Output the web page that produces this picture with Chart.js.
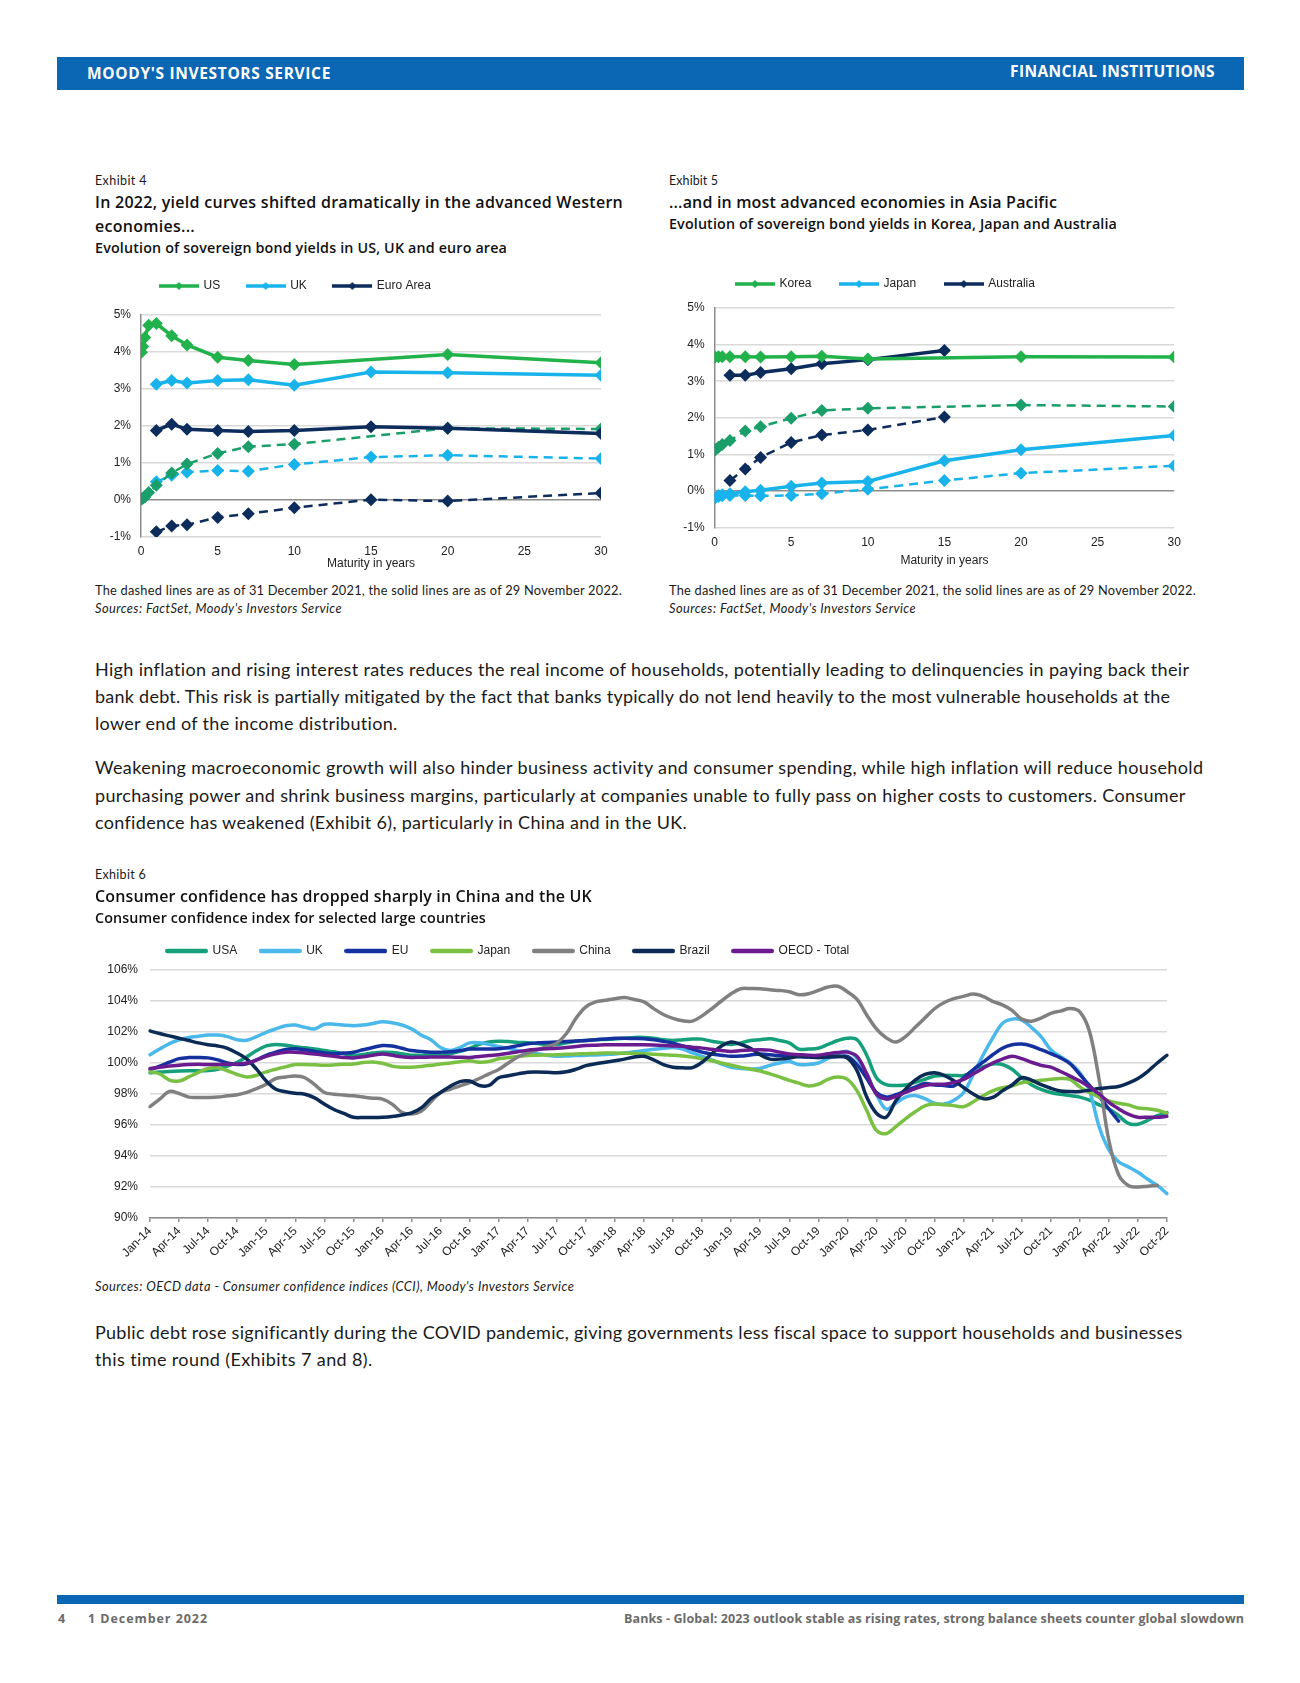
<!DOCTYPE html>
<html><head><meta charset="utf-8">
<script src="https://cdn.jsdelivr.net/npm/chart.js@4.4.1/dist/chart.umd.min.js"></script>
<style>
html,body{margin:0;padding:0;background:#fff;}
#page{position:relative;width:1300px;height:1683px;overflow:hidden;background:#fff;font-family:Lato,"Open Sans",sans-serif;color:#1a1a1a;}
.t{position:absolute;white-space:nowrap;line-height:1;}
.bar{position:absolute;background:#0b66b4;}
canvas{position:absolute;}
</style></head>
<body><div id="page">
<div class="bar" style="left:57px;top:57px;width:1187px;height:33px"></div>
<div class="bar" style="left:57px;top:1595px;width:1187px;height:9px"></div>
<canvas id="c1" width="530" height="320" style="left:95px;top:260px"></canvas>
<canvas id="c2" width="530" height="320" style="left:670px;top:252px"></canvas>
<canvas id="c3" width="1110" height="364" style="left:80px;top:914px"></canvas>
</div>
<script>
// ---------- Exhibit 4 data ----------
const maturities4 = [0.03, 0.12, 0.25, 0.5, 1, 2, 3, 5, 7, 10, 15, 20, 30];
const us2022   = [3.99, 4.15, 4.39, 4.72, 4.77, 4.44, 4.19, 3.86, 3.77, 3.66, null, 3.93, 3.71];
const uk2022   = [null, null, null, null, 3.13, 3.23, 3.16, 3.23, 3.25, 3.10, 3.46, 3.44, 3.37];
const euro2022 = [null, null, null, null, 1.88, 2.05, 1.91, 1.88, 1.85, 1.88, 1.98, 1.94, 1.80];
const us2021   = [0.03, 0.05, 0.08, 0.20, 0.40, 0.73, 0.97, 1.26, 1.44, 1.51, null, 1.94, 1.92];
const uk2021   = [null, null, null, null, 0.49, 0.67, 0.75, 0.80, 0.78, 0.96, 1.16, 1.21, 1.12];
const euro2021 = [null, null, null, null, -0.86, -0.70, -0.67, -0.47, -0.37, -0.21, 0.01, -0.03, 0.19];

// ---------- Exhibit 5 data ----------
const maturities5 = [0.03, 0.25, 0.5, 1, 2, 3, 5, 7, 10, 15, 20, 30];
const korea2022 = [3.66, 3.67, 3.67, 3.67, 3.67, 3.66, 3.67, 3.68, 3.61, null, 3.67, 3.66];
const japan2022 = [null, -0.12, -0.10, -0.07, -0.02, 0.02, 0.13, 0.22, 0.26, 0.83, 1.13, 1.52];
const aus2022   = [null, null, null, 3.16, 3.16, 3.24, 3.34, 3.48, 3.59, 3.84, null, null];
const korea2021 = [1.12, 1.20, 1.27, 1.38, 1.64, 1.76, 1.99, 2.20, 2.26, null, 2.35, 2.31];
const japan2021 = [-0.19, -0.15, -0.13, -0.12, -0.12, -0.13, -0.12, -0.07, 0.05, 0.29, 0.49, 0.69];
const aus2021   = [null, null, null, 0.29, 0.60, 0.92, 1.33, 1.53, 1.67, 2.02, null, null];

// ---------- Exhibit 6 data (monthly, Jan-14 .. Oct-22) ----------
const monthNames = ['Jan','Feb','Mar','Apr','May','Jun','Jul','Aug','Sep','Oct','Nov','Dec'];
const years = ['14','15','16','17','18','19','20','21','22'];
const lastMonthIndex = 9; // Oct-22
const months = [];
years.forEach((y, yi) => monthNames.forEach((m, mi) => { if (yi < years.length - 1 || mi <= lastMonthIndex) months.push(m + '-' + y); }));

const usaCCI = [
99.37,99.42,99.45,99.48,99.5,99.5,99.52,99.6,99.8,100.05,100.4,100.8,
101.1,101.2,101.15,101.05,100.98,100.9,100.8,100.72,100.6,100.5,100.55,100.65,
100.7,100.68,100.6,100.5,100.5,100.52,100.5,100.6,100.75,100.95,101.2,101.35,
101.4,101.38,101.33,101.3,101.25,101.2,101.2,101.3,101.4,101.45,101.5,101.52,
101.55,101.6,101.65,101.65,101.6,101.5,101.45,101.5,101.55,101.54,101.4,101.3,
101.2,101.3,101.45,101.5,101.56,101.45,101.3,100.9,100.9,100.95,101.2,101.45,
101.6,101.5,100.5,99.05,98.6,98.55,98.58,98.75,98.95,99.16,99.2,99.2,
99.2,99.45,99.75,99.94,99.9,99.6,99.05,98.6,98.3,98.1,97.98,97.9,
97.8,97.6,97.3,97.03,96.6,96.1,96.05,96.3,96.6,96.8];
const ukCCI = [
100.53,100.9,101.25,101.5,101.65,101.72,101.8,101.8,101.7,101.5,101.47,101.7,
101.98,102.2,102.4,102.45,102.3,102.2,102.5,102.5,102.45,102.4,102.45,102.55,
102.66,102.6,102.45,102.2,101.8,101.5,101.0,100.8,101.0,101.3,101.3,101.2,
101.05,100.95,100.8,100.7,100.6,100.5,100.44,100.45,100.48,100.5,100.52,100.55,
100.58,100.65,100.72,100.8,100.88,100.95,101.0,100.9,100.65,100.43,100.2,99.95,
99.72,99.65,99.62,99.65,99.85,100.0,100.1,99.9,99.9,100.0,100.3,100.6,
100.75,100.3,99.3,97.98,97.03,97.4,97.8,97.9,97.7,97.4,97.35,97.6,
98.1,99.26,100.5,101.6,102.55,102.83,102.77,102.3,101.7,100.86,100.4,100.0,
99.37,98.2,95.87,94.4,93.63,93.3,92.95,92.5,92.1,91.57];
const euCCI = [
99.58,99.8,100.05,100.28,100.35,100.36,100.33,100.2,100.0,99.9,99.95,100.2,
100.5,100.7,100.88,100.92,100.85,100.75,100.64,100.6,100.64,100.7,100.85,101.0,
101.13,101.1,100.95,100.8,100.75,100.7,100.7,100.72,100.8,100.9,100.9,100.9,
100.92,101.0,101.12,101.24,101.3,101.33,101.35,101.38,101.42,101.45,101.5,101.55,
101.6,101.6,101.58,101.56,101.5,101.4,101.28,101.1,100.9,100.7,100.58,100.5,
100.43,100.45,100.52,100.58,100.53,100.48,100.43,100.4,100.38,100.36,100.38,100.4,
100.43,99.9,99.0,98.1,97.8,97.95,98.2,98.45,98.67,98.58,98.55,98.52,
99.05,99.58,100.05,100.53,100.95,101.18,101.22,101.1,100.86,100.6,100.33,99.95,
99.26,98.55,97.85,97.03,96.25];
const japanCCI = [
99.43,99.3,98.9,98.84,99.1,99.4,99.65,99.69,99.5,99.26,99.1,99.2,
99.43,99.6,99.75,99.9,99.9,99.88,99.86,99.88,99.92,99.94,100.03,100.07,
99.98,99.8,99.73,99.73,99.78,99.85,99.94,100.0,100.08,100.15,100.05,100.1,
100.28,100.35,100.42,100.48,100.5,100.52,100.53,100.56,100.58,100.6,100.62,100.64,
100.64,100.63,100.62,100.6,100.57,100.53,100.5,100.45,100.38,100.28,100.15,100.0,
99.86,99.72,99.6,99.48,99.3,99.1,98.88,98.7,98.52,98.63,98.95,99.09,
98.94,98.2,96.93,95.65,95.44,95.9,96.4,96.85,97.24,97.35,97.3,97.25,
97.18,97.5,97.88,98.2,98.4,98.52,98.73,98.8,98.88,98.95,99.0,98.94,
98.46,98.1,97.8,97.56,97.4,97.3,97.1,97.05,96.95,96.76];
const chinaCCI = [
97.18,97.67,98.16,98.03,97.8,97.78,97.78,97.8,97.88,97.95,98.1,98.35,
98.63,99.0,99.1,99.16,99.05,98.6,98.1,97.99,97.93,97.88,97.8,97.73,
97.67,97.35,96.82,96.71,96.88,97.5,98.1,98.3,98.52,98.73,99.0,99.3,
99.58,100.0,100.4,100.64,100.85,101.05,101.28,101.9,102.9,103.62,103.94,104.05,
104.15,104.22,104.1,103.94,103.51,103.13,102.88,102.72,102.7,103.04,103.5,104.0,
104.47,104.79,104.8,104.79,104.72,104.68,104.6,104.4,104.47,104.68,104.9,104.95,
104.6,104.1,103.1,102.2,101.63,101.35,101.7,102.3,102.9,103.5,103.9,104.15,
104.3,104.45,104.3,103.98,103.75,103.4,102.83,102.7,102.9,103.2,103.35,103.51,
103.3,102.03,98.9,95.0,92.8,92.1,92.0,92.05,92.1];
const brazilCCI = [
102.07,101.9,101.75,101.6,101.45,101.3,101.18,101.1,100.95,100.64,100.25,99.6,
98.84,98.31,98.15,98.05,97.98,97.75,97.35,97.0,96.75,96.5,96.48,96.48,
96.5,96.55,96.65,96.78,97.1,97.7,98.1,98.5,98.8,98.84,98.55,98.55,
99.05,99.18,99.3,99.41,99.42,99.4,99.37,99.43,99.6,99.83,99.95,100.05,
100.15,100.25,100.39,100.43,100.2,99.9,99.73,99.69,99.7,100.05,100.6,101.1,
101.35,101.2,100.95,100.53,100.25,100.25,100.32,100.43,100.4,100.36,100.4,100.43,
100.32,99.5,97.8,96.76,96.5,97.56,98.31,98.9,99.26,99.37,99.2,98.85,
98.42,98.0,97.7,97.78,98.2,98.58,99.05,98.9,98.6,98.37,98.2,98.16,
98.16,98.25,98.35,98.42,98.48,98.7,99.0,99.45,100.0,100.5];
const oecdCCI = [
99.65,99.72,99.8,99.86,99.9,99.92,99.9,99.9,99.92,99.94,100.0,100.2,
100.43,100.6,100.7,100.7,100.65,100.58,100.5,100.43,100.36,100.33,100.4,100.5,
100.58,100.5,100.4,100.36,100.37,100.38,100.39,100.38,100.37,100.36,100.42,100.48,
100.53,100.63,100.73,100.83,100.88,100.92,100.95,101.0,101.07,101.13,101.15,101.17,
101.18,101.18,101.18,101.18,101.16,101.13,101.1,101.08,101.02,100.96,100.88,100.8,
100.75,100.8,100.84,100.86,100.83,100.7,100.58,100.54,100.5,100.5,100.6,100.68,
100.7,100.43,99.3,97.98,97.67,97.85,98.1,98.35,98.55,98.63,98.63,98.75,
98.94,99.3,99.65,100.0,100.25,100.43,100.28,100.05,99.85,99.73,99.45,99.15,
98.84,98.45,98.0,97.46,97.05,96.7,96.5,96.5,96.5,96.56];

const yTicks4 = [-1, 0, 1, 2, 3, 4, 5];
const xTicks4 = [0, 5, 10, 15, 20, 25, 30];

// ---------- page text ----------
const page = document.getElementById('page');
const HEAD = '"Open Sans", Lato, sans-serif';
function T(txt, x, yc, w, size, weight, style, color, right, family) {
  const el = document.createElement('div');
  el.className = 't';
  el.textContent = txt;
  el.style.fontSize = size + 'px';
  el.style.fontWeight = weight || 400;
  el.style.fontStyle = style || 'normal';
  el.style.color = color || '#1a1a1a';
  if (family) el.style.fontFamily = family;
  el.style.top = (yc - size * 0.56) + 'px';
  el.style.left = x + 'px';
  el.dataset.w = w;
  if (right) el.dataset.r = right;
  page.appendChild(el);
}
T("MOODY'S INVESTORS SERVICE", 87, 75, 244, 15.5, 700, 'normal', '#fff', null, HEAD);
T("FINANCIAL INSTITUTIONS", 1010, 73, 205, 15.5, 700, 'normal', '#fff', 1215, HEAD);
T("Exhibit 4", 95, 182, 52, 12.5);
T("In 2022, yield curves shifted dramatically in the advanced Western", 95, 203, 528, 16, 600, 'normal', '#111', null, HEAD);
T("economies...", 95, 227, 100, 16, 600, 'normal', '#111', null, HEAD);
T("Evolution of sovereign bond yields in US, UK and euro area", 95, 249, 412, 14.3, 600, 'normal', '#111', null, HEAD);
T("Exhibit 5", 669, 182, 49, 12.5);
T("...and in most advanced economies in Asia Pacific", 669, 203, 388, 16, 600, 'normal', '#111', null, HEAD);
T("Evolution of sovereign bond yields in Korea, Japan and Australia", 669, 225, 448, 14.3, 600, 'normal', '#111', null, HEAD);
T("The dashed lines are as of 31 December 2021, the solid lines are as of 29 November 2022.", 95, 591, 527, 12.8);
T("Sources: FactSet, Moody's Investors Service", 95, 609, 247, 12.8, 400, 'italic');
T("The dashed lines are as of 31 December 2021, the solid lines are as of 29 November 2022.", 669, 591, 527, 12.8);
T("Sources: FactSet, Moody's Investors Service", 669, 609, 247, 12.8, 400, 'italic');
T("High inflation and rising interest rates reduces the real income of households, potentially leading to delinquencies in paying back their", 95, 670, 1095, 18);
T("bank debt. This risk is partially mitigated by the fact that banks typically do not lend heavily to the most vulnerable households at the", 95, 697, 1076, 18);
T("lower end of the income distribution.", 95, 724, 303, 18);
T("Weakening macroeconomic growth will also hinder business activity and consumer spending, while high inflation will reduce household", 95, 768, 1109, 18);
T("purchasing power and shrink business margins, particularly at companies unable to fully pass on higher costs to customers. Consumer", 95, 796, 1091, 18);
T("confidence has weakened (Exhibit 6), particularly in China and in the UK.", 95, 823, 592, 18);
T("Exhibit 6", 95, 876, 51, 12.5);
T("Consumer confidence has dropped sharply in China and the UK", 95, 897, 497, 16, 600, 'normal', '#111', null, HEAD);
T("Consumer confidence index for selected large countries", 95, 919, 391, 14.3, 600, 'normal', '#111', null, HEAD);
T("Sources: OECD data - Consumer confidence indices (CCI), Moody's Investors Service", 95, 1287, 479, 12.8, 400, 'italic');
T("Public debt rose significantly during the COVID pandemic, giving governments less fiscal space to support households and businesses", 95, 1333, 1087, 18);
T("this time round (Exhibits 7 and 8).", 95, 1360, 278, 18);
T("4", 58, 1620, 7, 12.5, 700, 'normal', '#6b6b6b', null, HEAD);
T("1 December 2022", 88, 1620, 120, 12.5, 700, 'normal', '#6b6b6b', null, HEAD);
T("Banks - Global: 2023 outlook stable as rising rates, strong balance sheets counter global slowdown", 624, 1620, 620, 12.5, 700, 'normal', '#6b6b6b', 1244, HEAD);

function fitAll() {
  document.querySelectorAll('.t[data-w]').forEach(el => {
    el.style.letterSpacing = '0px';
    const nat = el.getBoundingClientRect().width;
    const target = +el.dataset.w;
    const n = el.textContent.length;
    el.style.letterSpacing = ((target - nat) / n).toFixed(3) + 'px';
    if (el.dataset.r) el.style.left = (+el.dataset.r - target) + 'px';
  });
}
fitAll();
if (document.fonts && document.fonts.ready) document.fonts.ready.then(fitAll);

// ---------- Chart helpers ----------
Chart.defaults.font.family = '"Liberation Sans", Arial, sans-serif';
Chart.defaults.font.size = 12;
Chart.defaults.color = '#222';
Chart.defaults.animation = false;

const legendPlace = {
  id: 'legendPlace',
  afterLayout(chart, args, opts) {
    const lg = chart.legend;
    if (!lg || !opts || opts.x == null) return;
    const pad = lg.options.labels.padding;
    const fs = Chart.helpers.toFont(lg.options.labels.font).size;
    lg.left = opts.x - pad;
    lg.right = chart.width + 1000;
    lg.top = opts.y - pad - fs / 2;
  }
};

function legendIcon(color, w, lw, diamond, round) {
  const c = document.createElement('canvas');
  c.width = w; c.height = 12;
  const g = c.getContext('2d');
  g.strokeStyle = color; g.fillStyle = color; g.lineWidth = lw;
  g.lineCap = round ? 'round' : 'butt';
  g.beginPath();
  g.moveTo(round ? lw / 2 : 0, 6); g.lineTo(round ? w - lw / 2 : w, 6); g.stroke();
  if (diamond) {
    g.beginPath(); g.moveTo(w / 2, 2); g.lineTo(w / 2 + 4, 6); g.lineTo(w / 2, 10); g.lineTo(w / 2 - 4, 6); g.closePath(); g.fill();
  }
  return c;
}

function pts(xs, ys) { return xs.map((x, i) => ({x: x, y: ys[i]})); }

function yieldDataset(label, xs, ys, color, dashed, mcolor) {
  return {
    label: label, data: pts(xs, ys), borderColor: color, backgroundColor: color,
    borderWidth: dashed ? 2.5 : 3.5, borderDash: dashed ? [9, 6] : [],
    pointStyle: 'rectRot', pointRadius: 6.5, pointBackgroundColor: mcolor || color,
    pointBorderColor: mcolor || color, pointBorderWidth: 0, spanGaps: true, tension: 0
  };
}

function yieldOptions(cfg) {
  return {
    responsive: false, maintainAspectRatio: false, events: [],
    layout: {padding: cfg.pad},
    plugins: {
      tooltip: {enabled: false},
      legendPlace: {x: cfg.legendX, y: cfg.legendY},
      legend: {
        display: true, position: 'top', align: 'start',
        labels: {
          usePointStyle: true, pointStyleWidth: 37, padding: cfg.legendPad,
          font: {size: 12}, color: '#222',
          filter: item => item.datasetIndex < 3,
          generateLabels: chart => Chart.defaults.plugins.legend.labels.generateLabels(chart).map(it => {
            const ds = chart.data.datasets[it.datasetIndex];
            it.pointStyle = legendIcon(ds.borderColor, 40, 3.5, true, false);
            return it;
          })
        }
      }
    },
    scales: {
      x: {
        type: 'linear', min: 0, max: 30,
        afterBuildTicks: s => { s.ticks = xTicks4.map(v => ({value: v})); },
        ticks: {padding: cfg.xPad, font: {size: 12}, color: '#222'},
        grid: {display: false, drawTicks: false}, border: {display: false},
        title: {display: true, text: 'Maturity in years', font: {size: 12}, color: '#222', padding: 0},
        afterFit: s => { s.height = cfg.xH; }
      },
      y: {
        min: -1, max: 5,
        afterBuildTicks: s => { s.ticks = yTicks4.map(v => ({value: v})); },
        ticks: {callback: v => v + '%', padding: 10, font: {size: 12}, color: '#222'},
        grid: {
          drawTicks: false,
          color: c => (c.tick && c.tick.value === 0) ? '#8c8c8c' : '#d9d9d9',
          lineWidth: 1.5
        },
        border: {display: true, color: '#8c8c8c', width: 1.5},
        afterFit: s => { s.width = cfg.yW; }
      }
    }
  };
}

const GREEN = '#21b24b', TEAL = '#1a9e6a', BLUE = '#19b3ec', NAVY = '#0c2c5c';

new Chart(document.getElementById('c1'), {
  type: 'line',
  data: {datasets: [
    yieldDataset('US', maturities4, us2022, GREEN, false),
    yieldDataset('UK', maturities4, uk2022, BLUE, false),
    yieldDataset('Euro Area', maturities4, euro2022, NAVY, false),
    yieldDataset('US 2021', maturities4, us2021, TEAL, true),
    yieldDataset('UK 2021', maturities4, uk2021, BLUE, true),
    yieldDataset('Euro Area 2021', maturities4, euro2021, NAVY, true)
  ]},
  options: yieldOptions({pad: {left: 0, right: 24, top: 6, bottom: 9.5}, legendX: 65.5, legendY: 26, legendPad: 27, xPad: 7, xH: 33.5, yW: 46}),
  plugins: [legendPlace]
});

new Chart(document.getElementById('c2'), {
  type: 'line',
  data: {datasets: [
    yieldDataset('Korea', maturities5, korea2022, GREEN, false),
    yieldDataset('Japan', maturities5, japan2022, BLUE, false),
    yieldDataset('Australia', maturities5, aus2022, NAVY, false),
    yieldDataset('Korea 2021', maturities5, korea2021, TEAL, true),
    yieldDataset('Japan 2021', maturities5, japan2021, BLUE, true),
    yieldDataset('Australia 2021', maturities5, aus2021, NAVY, true)
  ]},
  options: yieldOptions({pad: {left: 0, right: 25.8, top: 5, bottom: 3.8}, legendX: 66.5, legendY: 32, legendPad: 29, xPad: 8, xH: 40.5, yW: 44.6}),
  plugins: [legendPlace]
});

// ---------- Exhibit 6 ----------
const cciSeries = [
  ['USA', usaCCI, '#159f7b'],
  ['UK', ukCCI, '#4ab8ea'],
  ['EU', euCCI, '#1531a0'],
  ['Japan', japanCCI, '#7ac143'],
  ['China', chinaCCI, '#808080'],
  ['Brazil', brazilCCI, '#0b2a55'],
  ['OECD - Total', oecdCCI, '#6a1b8f']
];
const yTicks6 = [90, 92, 94, 96, 98, 100, 102, 104, 106];

new Chart(document.getElementById('c3'), {
  type: 'line',
  data: {
    labels: months,
    datasets: cciSeries.map((s, i) => ({
      label: s[0], data: s[1], borderColor: s[2], backgroundColor: s[2],
      borderWidth: 3.5, pointRadius: 0, tension: 0.35, order: -i, borderCapStyle: 'round'
    }))
  },
  options: {
    responsive: false, maintainAspectRatio: false, events: [],
    layout: {padding: {left: 0, right: 23, top: 11, bottom: 10}},
    plugins: {
      tooltip: {enabled: false},
      legendPlace: {x: 86.5, y: 37},
      legend: {
        display: true, position: 'top', align: 'start',
        labels: {
          usePointStyle: true, pointStyleWidth: 40, padding: 23, font: {size: 12}, color: '#222',
          sort: (a, b) => a.datasetIndex - b.datasetIndex,
          generateLabels: chart => Chart.defaults.plugins.legend.labels.generateLabels(chart).map(it => {
            const ds = chart.data.datasets[it.datasetIndex];
            it.pointStyle = legendIcon(ds.borderColor, 43, 4.5, false, true);
            return it;
          })
        }
      }
    },
    scales: {
      x: {
        type: 'category', offset: false,
        ticks: {
          autoSkip: false, maxRotation: 45, minRotation: 45, padding: 2, font: {size: 12}, color: '#222',
          callback: function(v, i) { return i % 3 === 0 ? months[i] : null; }
        },
        grid: {display: true, drawOnChartArea: false, drawTicks: true, tickLength: 4, color: '#8c8c8c', lineWidth: 1.5, offset: false},
        border: {display: true, color: '#8c8c8c', width: 1.5},
        afterFit: s => { s.height = 50; }
      },
      y: {
        min: 90, max: 106,
        afterBuildTicks: s => { s.ticks = yTicks6.map(v => ({value: v})); },
        ticks: {callback: v => v + '%', padding: 12, font: {size: 12}, color: '#222'},
        grid: {drawTicks: false, color: '#d9d9d9', lineWidth: 1.5},
        border: {display: false},
        afterFit: s => { s.width = 70; }
      }
    }
  },
  plugins: [legendPlace]
});
</script>
</body></html>
